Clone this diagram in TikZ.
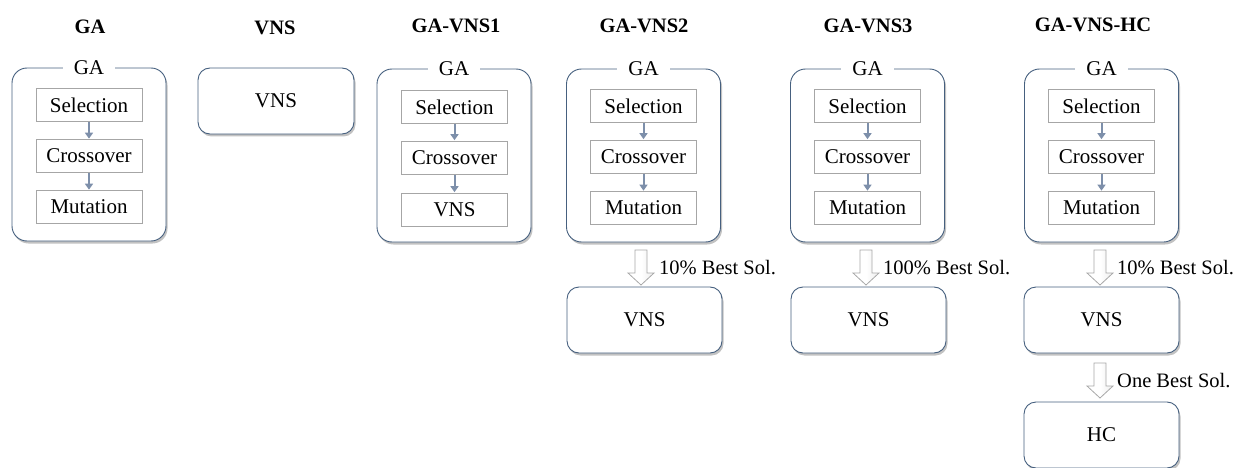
\documentclass[tikz,border=0pt]{standalone}
\usepackage{fontspec}
\setmainfont{Liberation Serif}
\usetikzlibrary{shadows,calc,arrows.meta}
\definecolor{frame}{HTML}{46607F}
\definecolor{inner}{HTML}{A6A6A6}
\definecolor{smallarr}{HTML}{7D8FAA}
\definecolor{hollow}{HTML}{A8A8A8}
\definecolor{hollowfill}{HTML}{EDEDED}
\tikzset{
  every node/.style={font=\fontsize{21}{24}\selectfont, inner sep=0pt},
  container/.style={draw=frame, line width=0.9pt, rounded corners=15pt, fill=white,
     drop shadow={shadow xshift=1.5pt, shadow yshift=-2.5pt, opacity=0.4, fill=black!60},
     minimum width=154pt, minimum height=173pt},
  solobox/.style={draw=frame, line width=0.9pt, rounded corners=12pt, fill=white,
     drop shadow={shadow xshift=1.5pt, shadow yshift=-2.5pt, opacity=0.4, fill=black!60},
     minimum width=155pt, minimum height=66pt},
  stepbox/.style={draw=inner, line width=0.7pt, fill=white, minimum width=106pt, minimum height=33pt},
  ctitle/.style={fill=white, inner xsep=11pt, inner ysep=1pt},
  heading/.style={font=\fontsize{20.5}{24}\selectfont\bfseries},
  smallarrow/.style={draw=smallarr, line width=2pt, -{Triangle[length=6pt,width=8pt]}, shorten >=0.5pt, shorten <=0.5pt},
  hollowarr/.style={draw=hollow, line width=0.8pt, left color=white, right color=hollowfill, middle color=white},
  lbl/.style={anchor=west, font=\fontsize{20.5}{24}\selectfont},
}
\newcommand{\hollowarrow}[2]{%
  \path[hollowarr] ($(#1)+(-6,0)$) -- ($(#1)+(6,0)$) -- ($(#1)+(6,23)$) -- ($(#1)+(13,23)$)
    -- (#2) -- ($(#1)+(-13,23)$) -- ($(#1)+(-6,23)$) -- cycle;}
\begin{document}
\begin{tikzpicture}[x=1pt,y=-1pt]
\useasboundingbox (0,0) rectangle (1247,468);

% headings
\node[heading] (h1) at (90,27) {GA};
\node[heading] (h2) at (275,28) {VNS};
\node[heading] (h3) at (456,26) {GA-VNS1};
\node[heading] (h4) at (644,26) {GA-VNS2};
\node[heading] (h5) at (868,26) {GA-VNS3};
\node[heading] (h6) at (1093,25) {GA-VNS-HC};

% column 1: GA
\node[container] (c1) at (89,154.5) {};
\node[ctitle] (t1) at (c1.north) {GA};
\node[stepbox] (s1) at (89,105) {Selection};
\node[stepbox] (x1) at (89,156) {Crossover};
\node[stepbox] (m1) at (89,207) {Mutation};
\draw[smallarrow] (s1) -- (x1);
\draw[smallarrow] (x1) -- (m1);

% column 2: VNS
\node[solobox, minimum width=156pt] (v2) at (276,101) {VNS};

% column 3: GA-VNS1
\node[container] (c3) at (454,155.5) {};
\node[ctitle] (t3) at (c3.north) {GA};
\node[stepbox] (s3) at (454.5,107) {Selection};
\node[stepbox] (x3) at (454.5,157.5) {Crossover};
\node[stepbox] (m3) at (454.5,209.5) {VNS};
\draw[smallarrow] (s3) -- (x3);
\draw[smallarrow] (x3) -- (m3);

% column 4: GA-VNS2
\node[container] (c4) at (643.5,155.5) {};
\node[ctitle] (t4) at (c4.north) {GA};
\node[stepbox] (s4) at (643.5,106) {Selection};
\node[stepbox] (x4) at (643.5,156.5) {Crossover};
\node[stepbox] (m4) at (643.5,208) {Mutation};
\draw[smallarrow] (s4) -- (x4);
\draw[smallarrow] (x4) -- (m4);
\node[solobox] (v4) at (644.5,320) {VNS};
\coordinate (a4s) at (641,250);
\coordinate (a4e) at (641,285);
\hollowarrow{a4s}{a4e}
\node[lbl] (l4) at (659,268) {10\% Best Sol.};

% column 5: GA-VNS3
\node[container] (c5) at (867.5,155.5) {};
\node[ctitle] (t5) at (c5.north) {GA};
\node[stepbox] (s5) at (867.5,106) {Selection};
\node[stepbox] (x5) at (867.5,156.5) {Crossover};
\node[stepbox] (m5) at (867.5,208) {Mutation};
\draw[smallarrow] (s5) -- (x5);
\draw[smallarrow] (x5) -- (m5);
\node[solobox] (v5) at (868.5,320) {VNS};
\coordinate (a5s) at (866,250);
\coordinate (a5e) at (866,285);
\hollowarrow{a5s}{a5e}
\node[lbl] (l5) at (883,268) {100\% Best Sol.};

% column 6: GA-VNS-HC
\node[container] (c6) at (1101.5,155.5) {};
\node[ctitle] (t6) at (c6.north) {GA};
\node[stepbox] (s6) at (1101.5,106) {Selection};
\node[stepbox] (x6) at (1101.5,156.5) {Crossover};
\node[stepbox] (m6) at (1101.5,208) {Mutation};
\draw[smallarrow] (s6) -- (x6);
\draw[smallarrow] (x6) -- (m6);
\node[solobox] (v6) at (1101.5,320) {VNS};
\coordinate (a6s) at (1100,250);
\coordinate (a6e) at (1100,285);
\hollowarrow{a6s}{a6e}
\node[lbl] (l6) at (1117,268) {10\% Best Sol.};
\node[solobox] (hc) at (1101.5,435) {HC};
\coordinate (b6s) at (1100,363);
\coordinate (b6e) at (1100,398);
\hollowarrow{b6s}{b6e}
\node[lbl] (l7) at (1117,381) {One Best Sol.};
\end{tikzpicture}
\end{document}
